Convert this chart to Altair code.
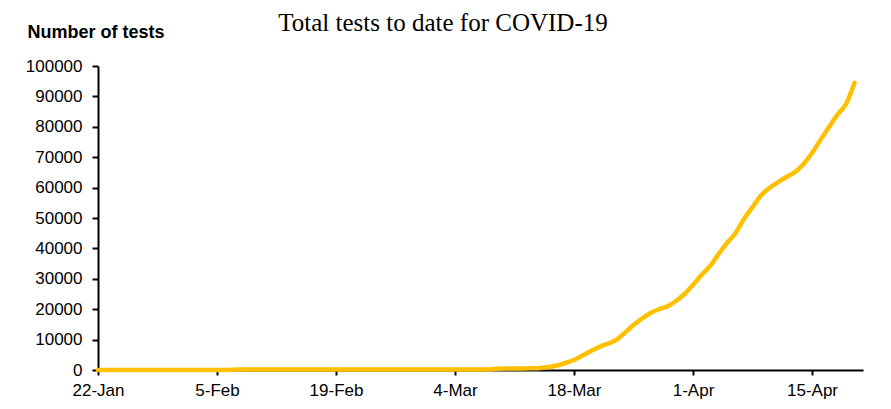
import altair as alt
import pandas as pd

start_date = "2020-01-22"
end_date = "2020-04-20"

# cumulative tests per day, 22-Jan .. 20-Apr
tests = (
    [0] * 16 + [100] + [200] * 30 +
    [400, 500, 500, 520, 560, 650, 1000, 1500, 2300, 3300, 4800, 6250, 7600,
     8700, 9900, 12300, 14800, 16900, 18750, 20000, 21000, 22700, 25000,
     28000, 31250, 34200, 38100, 41800, 45000, 49700, 53600, 57400, 59900,
     61800, 63500, 65100, 67800, 71400, 75700, 79900, 84000, 87500, 94500]
)
tick_dates = ["2020-01-22", "2020-02-05", "2020-02-19", "2020-03-04",
              "2020-03-18", "2020-04-01", "2020-04-15"]
y_ticks = list(range(0, 100001, 10000))
title_text = "Total tests to date for COVID-19"

dates = pd.date_range(start_date, end_date, freq="D")
df = pd.DataFrame({"date": dates, "tests": tests[:len(dates)]})

tick_vals = [alt.DateTime(year=int(d[:4]), month=int(d[5:7]), date=int(d[8:10])) for d in tick_dates]

line = alt.Chart(df).mark_line(
    color="#FFC000", strokeWidth=4.5, interpolate="monotone", strokeCap="round"
).encode(
    x=alt.X("date:T",
            scale=alt.Scale(domain=[alt.DateTime(year=2020, month=1, date=22),
                                    alt.DateTime(year=2020, month=4, date=21)]),
            axis=alt.Axis(values=tick_vals, format="%-d-%b", title=None,
                          grid=False, domainColor="black", domainWidth=2,
                          tickColor="black", tickWidth=2, tickSize=5,
                          labelFont="Liberation Sans", labelFontSize=17,
                          labelColor="black", labelPadding=7,
                          labelFlush=False, labelOverlap=False)),
    y=alt.Y("tests:Q",
            scale=alt.Scale(domain=[0, 100000], nice=False),
            axis=alt.Axis(values=y_ticks, format="d", title="Number of tests",
                          grid=False, domainColor="black", domainWidth=2,
                          tickColor="black", tickWidth=2, tickSize=6,
                          labelFont="Liberation Sans", labelFontSize=17,
                          labelColor="black", labelPadding=10,
                          labelFlush=False,
                          titleAngle=0, titleX=-71, titleY=-29,
                          titleAlign="left", titleBaseline="alphabetic",
                          titleFont="Liberation Sans", titleFontSize=18,
                          titleFontWeight="bold", titleColor="black")),
)

title = alt.Chart(pd.DataFrame({"t": [title_text]})).mark_text(
    font="Liberation Serif", fontSize=25, color="black",
    align="center", baseline="alphabetic"
).encode(
    text="t:N",
    x=alt.value(345),
    y=alt.value(-35),
)

chart = alt.layer(line, title).properties(
    width=765,
    height=304,
    autosize=alt.AutoSizeParams(type="none"),
    padding={"left": 90, "top": 58, "right": 20, "bottom": 35},
).configure_view(stroke=None)

chart.save("out.html", embed_options={"renderer": "svg", "actions": False})
